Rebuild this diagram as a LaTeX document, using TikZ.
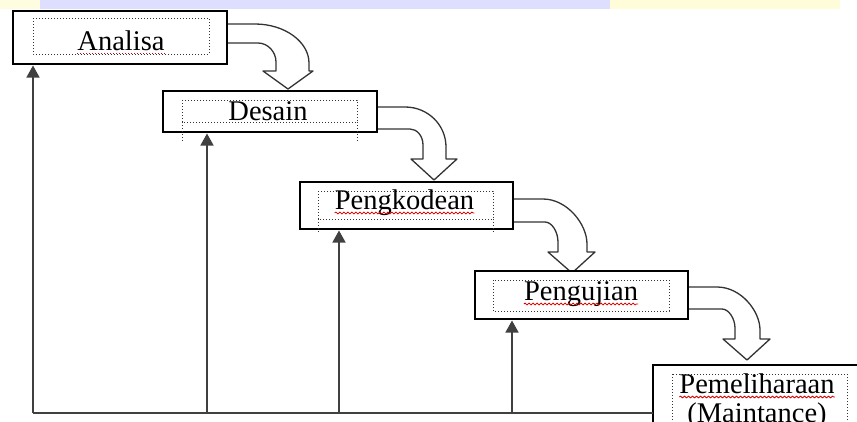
\documentclass[tikz,border=0pt]{standalone}
\usepackage{fontspec}
\setmainfont{Liberation Serif}
\usetikzlibrary{arrows.meta,decorations.pathmorphing}
\begin{document}
\begin{tikzpicture}[x=1pt,y=-1pt,
  stagebox/.style={draw=black,line width=1.5pt,fill=white,inner sep=0pt,outer sep=0pt},
  innerdot/.style={draw=black!80,dotted,line width=1pt},
  blockarrow/.style={draw=black!80,line width=1.3pt,fill=white,line join=round},
  lbl/.style={inner sep=0pt,anchor=base,font=\fontsize{28.5}{30}\selectfont},
  fbline/.style={draw=black!75,line width=1.5pt},
  fbarrow/.style={fbline,-{Triangle[width=13pt,length=12pt]},shorten >=1.5pt},
  spellwave/.style={draw=red!85!black,line width=0.8pt,decorate,decoration={snake,segment length=4pt,amplitude=0.9pt}},
  spelldot/.style={draw=red!85!black,line width=1pt,dotted}]
\clip (0,0) rectangle (857,421);
\fill[white] (0,0) rectangle (857,421);
% faint watermark strip at the top
\fill[yellow!12] (0,0) rectangle (40,9);
\fill[blue!13] (40,0) rectangle (610,9);
\fill[yellow!15] (610,0) rectangle (840,9);
% block arrows (drawn first, boxes cover their open ends)
\draw[blockarrow] (227,24) -- (255,24) .. controls (285,24) and (309,42) .. (309,63) -- (309,71) -- (313,71) -- (288,89) -- (263,71) -- (276,71) -- (276,62) .. controls (276,52) and (268,43) .. (258,43) -- (227,43);
\draw[blockarrow] (377,107) -- (405,107) .. controls (428,107) and (446,125) .. (446,147) -- (446,159) -- (457,159) -- (434,180) -- (411,159) -- (423,159) -- (423,145) .. controls (423,136) and (417,129) .. (410,129) -- (377,129);
\draw[blockarrow] (513,199) -- (543,199) .. controls (567,199) and (587,224) .. (587,244) -- (587,252) -- (595,252) -- (572,273) -- (548,252) -- (558,252) -- (558,242) .. controls (558,232) and (552,222) .. (545,222) -- (513,222);
\draw[blockarrow] (688,287) -- (717,287) .. controls (741,287) and (760,311) .. (760,330) -- (760,339) -- (770,339) -- (747,360) -- (723,339) -- (735,339) -- (735,328) .. controls (735,319) and (729,309) .. (722,309) -- (688,309);
% stage boxes
\node[stagebox,minimum width=214pt,minimum height=53pt] (b1) at (120,37.5) {};
\node[stagebox,minimum width=214pt,minimum height=41pt] (b2) at (270,111.5) {};
\node[stagebox,minimum width=213pt,minimum height=47pt] (b3) at (406.5,205.5) {};
\node[stagebox,minimum width=213pt,minimum height=48pt] (b4) at (581.5,295) {};
\node[stagebox,minimum width=217pt,minimum height=85pt] (b5) at (761.5,407.5) {};
% dotted inner frames
\draw[innerdot] (33,18) rectangle (209,54);
\draw[innerdot] (182,100) rectangle (357,122);
\draw[innerdot] (182,122) -- (182,143) (357,122) -- (357,143);
\draw[innerdot] (318,191) rectangle (493,219);
\draw[innerdot] (318,219) -- (318,234) (493,219) -- (493,234);
\draw[innerdot] (493,280) rectangle (669,311);
\draw[innerdot] (672,374) rectangle (847,440);
% labels
\node[lbl] (t1) at (121,50) {Analisa};
\node[lbl] (t2) at (268,120) {Desain};
\node[lbl] (t3) at (404.5,209) {Pengkodean};
\node[lbl] (t4) at (581,300) {Pengujian};
\node[lbl] (t5) at (757,393) {Pemeliharaan};
\node[lbl] (t6) at (757,422) {(Maintance)};
% spell-check underlines
\draw[spelldot] ([yshift=-3pt]t1.base west) -- ([yshift=-3pt]t1.base east);
\draw[spellwave] ([yshift=-4pt]t3.base west) -- ([yshift=-4pt]t3.base east);
\draw[spellwave] ([yshift=-4pt]t4.base west) -- ([yshift=-4pt]t4.base east);
\draw[spellwave] ([yshift=-4pt]t5.base west) -- ([yshift=-4pt]t5.base east);
% feedback lines
\coordinate (f1) at (33,413);
\coordinate (f2) at (207,413);
\coordinate (f3) at (339,413);
\coordinate (f4) at (512,413);
\draw[fbline] (f1) -- (b5.west |- f1);
\draw[fbarrow] (f1) -- (f1 |- b1.south);
\draw[fbarrow] (f2) -- (f2 |- b2.south);
\draw[fbarrow] (f3) -- (f3 |- b3.south);
\draw[fbarrow] (f4) -- (f4 |- b4.south);
\end{tikzpicture}
\end{document}
